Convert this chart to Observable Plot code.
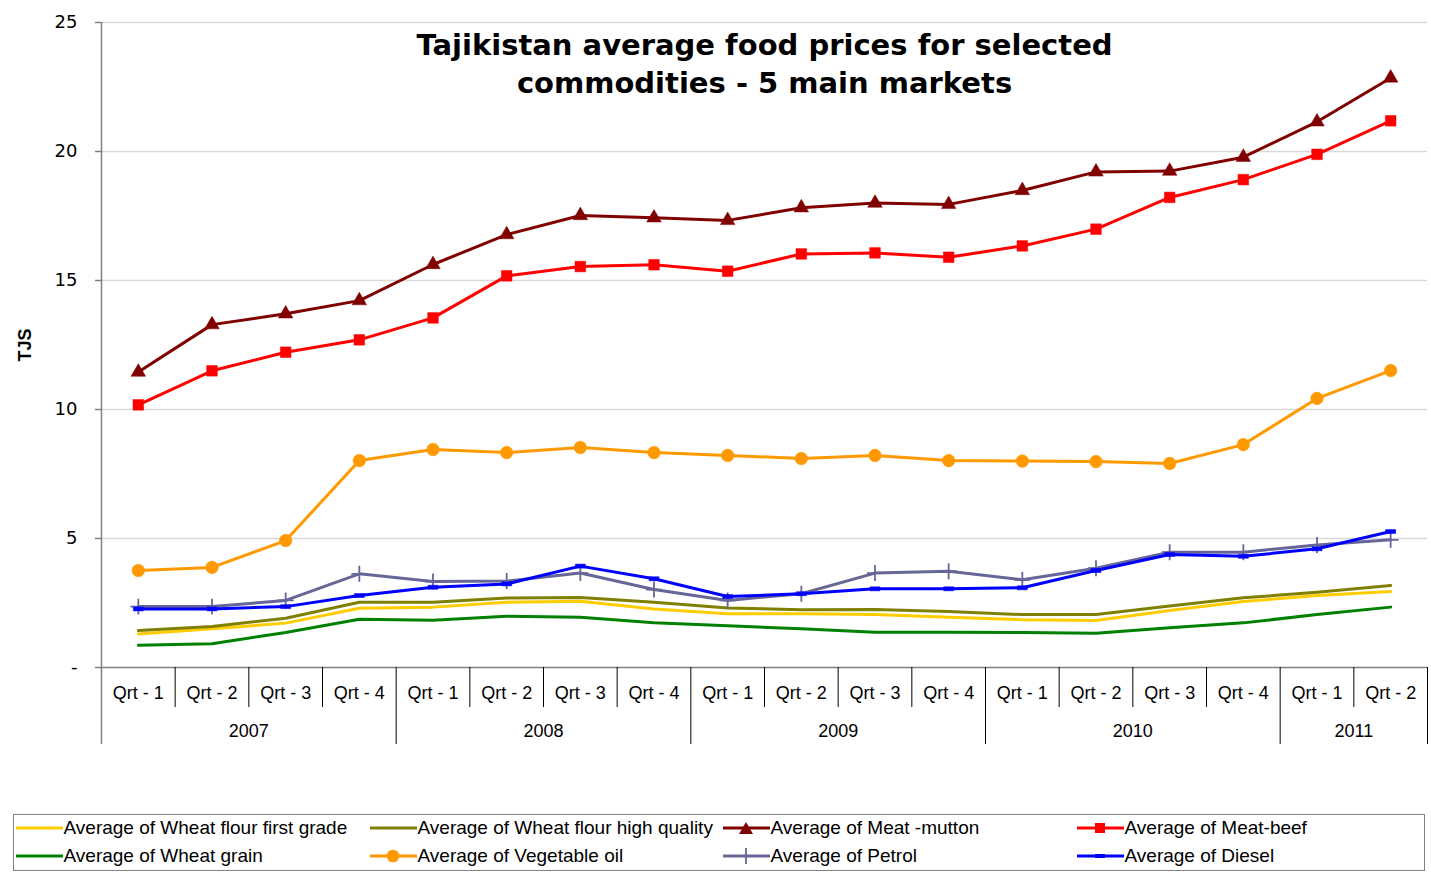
<!DOCTYPE html>
<html>
<head>
<meta charset="utf-8">
<script src="https://cdn.jsdelivr.net/npm/d3@7"></script>
<script src="https://cdn.jsdelivr.net/npm/@observablehq/plot@0.6"></script>
<style>
  html, body { margin: 0; padding: 0; background: #fff; overflow: hidden; }
  #wrap { position: relative; width: 1431px; height: 877px; }
  #chart svg { display: block; }
  #legend { position: absolute; left: 13px; top: 814px; width: 1412px; height: 57px;
            border: 1.5px solid #808080; box-sizing: border-box; }
  .item { position: absolute; height: 24px; display: flex; align-items: center;
          font-family: "Liberation Sans", Arial, sans-serif; font-size: 19px; color: #000; white-space: nowrap; }
  .item svg { display: block; margin-right: 1px; }
</style>
</head>
<body>
<div id="wrap">
  <div id="chart"></div>
  <div id="legend"></div>
</div>
<script>
// ---- data ----
const titleText = "Tajikistan average food prices for selected\ncommodities - 5 main markets";
const yLabel = "TJS";
const periodYears = ["2007","2007","2007","2007","2008","2008","2008","2008","2009","2009","2009","2009","2010","2010","2010","2010","2011","2011"];
const periodQuarters = ["Qrt - 1","Qrt - 2","Qrt - 3","Qrt - 4","Qrt - 1","Qrt - 2","Qrt - 3","Qrt - 4","Qrt - 1","Qrt - 2","Qrt - 3","Qrt - 4","Qrt - 1","Qrt - 2","Qrt - 3","Qrt - 4","Qrt - 1","Qrt - 2"];
const yTicks = [0, 5, 10, 15, 20, 25];

const wheatFlourFirstGrade = [1.30,1.50,1.72,2.30,2.34,2.53,2.57,2.27,2.08,2.08,2.05,1.95,1.85,1.82,2.21,2.56,2.79,2.95];
const wheatFlourHighQuality = [1.43,1.59,1.91,2.53,2.53,2.69,2.71,2.53,2.31,2.24,2.25,2.17,2.05,2.05,2.38,2.70,2.92,3.18];
const meatMutton = [11.45,13.29,13.71,14.22,15.62,16.78,17.52,17.43,17.33,17.82,18.00,17.95,18.49,19.21,19.24,19.78,21.15,22.85];
const meatBeef = [10.18,11.50,12.22,12.70,13.55,15.18,15.54,15.61,15.36,16.03,16.07,15.90,16.34,16.99,18.22,18.91,19.89,21.19];
const wheatGrain = [0.86,0.92,1.36,1.87,1.83,1.99,1.95,1.73,1.62,1.50,1.37,1.37,1.36,1.33,1.54,1.73,2.05,2.34];
const vegetableOil = [3.76,3.88,4.92,8.02,8.45,8.33,8.53,8.33,8.22,8.10,8.22,8.02,8.00,7.98,7.91,8.64,10.43,11.51];
const petrol = [2.36,2.36,2.60,3.63,3.33,3.35,3.66,3.02,2.60,2.86,3.66,3.73,3.40,3.85,4.47,4.47,4.75,4.95];
const diesel = [2.27,2.27,2.36,2.79,3.11,3.24,3.93,3.44,2.75,2.86,3.05,3.05,3.09,3.76,4.38,4.31,4.60,5.27];

const seriesNames = ["Average of Wheat flour first grade","Average of Wheat flour high quality","Average of Meat -mutton","Average of Meat-beef","Average of Wheat grain","Average of Vegetable oil","Average of Petrol","Average of Diesel"];
const seriesValues = [wheatFlourFirstGrade, wheatFlourHighQuality, meatMutton, meatBeef, wheatGrain, vegetableOil, petrol, diesel];
const seriesColors = ["#ffcc00","#808000","#800000","#ff0000","#008000","#ff9900","#666699","#0000ff"];
const seriesMarkers = [null, null, "triangle", "square", null, "circle", "plus", "dash"];

// ---- layout ----
const W = 1431, H = 800, mL = 101, mR = 4, mT = 22, mB = 133;
const frameH = H - mT - mB;
const n = periodQuarters.length;

const dashSymbol = { draw(ctx) { ctx.rect(-5, -2, 10, 4); } };
const markerSpec = {
  triangle: { symbol: "triangle", r: 5.4, fill: true },
  square: { symbol: "square", r: 6.0, fill: true },
  circle: { symbol: "circle", r: 6.3, fill: true },
  plus: { symbol: "plus", r: 5.2, fill: false },
  dash: { symbol: dashSymbol, r: 5, fill: true }
};

// year groups
const yearGroups = [];
periodYears.forEach((y, i) => {
  const last = yearGroups[yearGroups.length - 1];
  if (last && last.year === y) last.end = i + 1;
  else yearGroups.push({ year: y, start: i, end: i + 1 });
});
const yearBounds = yearGroups.map(g => g.end);
const quarterBounds = d3.range(1, n).filter(b => !yearBounds.includes(b));
const periods = periodQuarters.map((q, i) => ({ q, i }));

const marks = [
  Plot.gridY(yTicks.filter(t => t > 0), { stroke: "#d9d9d9", strokeOpacity: 1, strokeWidth: 1.5 }),
  Plot.axisY(yTicks, { tickFormat: d => d === 0 ? "-" : String(d), tickSize: 6, tickPadding: 18,
    fontSize: 18, fontFamily: "DejaVu Sans", stroke: "#808080", strokeWidth: 1.5, label: null }),
  Plot.ruleX([0], { stroke: "#808080", strokeWidth: 1.5, insetBottom: -77 }),
  Plot.ruleY([0], { stroke: "#808080", strokeWidth: 1.5 }),
  Plot.ruleX(quarterBounds, { stroke: "#000", strokeWidth: 1, insetTop: frameH, insetBottom: -40 }),
  Plot.ruleX(yearBounds, { stroke: "#000", strokeWidth: 1, insetTop: frameH, insetBottom: -77 }),
  Plot.text(periods, { x: d => d.i + 0.5, text: d => d.q, frameAnchor: "bottom", lineAnchor: "middle", dy: 26,
    fontSize: 18, fontFamily: "Liberation Sans", fill: "#000" }),
  Plot.text(yearGroups, { x: d => (d.start + d.end) / 2, text: d => d.year, frameAnchor: "bottom", lineAnchor: "middle", dy: 64,
    fontSize: 18, fontFamily: "Liberation Sans", fill: "#000" }),
  Plot.text([yLabel], { text: d => d, frameAnchor: "left", textAnchor: "middle", lineAnchor: "middle", dx: -76, rotate: -90,
    fontSize: 18, fontWeight: "bold", fontFamily: "Liberation Sans", fill: "#000" }),
  Plot.text([titleText], { text: d => d, frameAnchor: "top", dy: 39, lineAnchor: "middle", lineHeight: 1.31,
    fontSize: 29, fontWeight: "bold", fontFamily: "DejaVu Sans", fill: "#000" })
];

seriesValues.forEach((vals, k) => {
  const rows = vals.map((v, i) => ({ x: i + 0.5, y: v }));
  marks.push(Plot.line(rows, { x: "x", y: "y", stroke: seriesColors[k], strokeWidth: 3, strokeLinejoin: "round" }));
  const m = seriesMarkers[k];
  if (m) {
    const s = markerSpec[m];
    marks.push(Plot.dot(rows, { x: "x", y: "y", symbol: s.symbol, r: s.r,
      fill: s.fill ? seriesColors[k] : "none", stroke: seriesColors[k], strokeWidth: s.fill ? 0.5 : 1.8 }));
  }
});

const chart = Plot.plot({
  width: W, height: H, marginLeft: mL, marginRight: mR, marginTop: mT, marginBottom: mB,
  x: { type: "linear", domain: [0, n], axis: null },
  y: { type: "linear", domain: [0, 25], axis: null },
  style: { background: "#fff", color: "#000", fontFamily: "DejaVu Sans", overflow: "visible" },
  marks
});
document.getElementById("chart").appendChild(chart);

// ---- legend ----
const legend = document.getElementById("legend");
const colLeft = [16, 370, 723, 1077];
const rowCenter = [828, 856];
const legendBoxLeft = 13, legendBoxTop = 814;
seriesNames.forEach((name, k) => {
  const row = Math.floor(k / 4), col = k % 4;
  const div = document.createElement("div");
  div.className = "item";
  div.style.left = (colLeft[col] - legendBoxLeft - 1.5) + "px";
  div.style.top = (rowCenter[row] - 12 - legendBoxTop - 1.5) + "px";
  const c = seriesColors[k];
  let marker = "";
  switch (seriesMarkers[k]) {
    case "triangle": marker = `<path d="M23,6 L30,18 L16,18 Z" fill="${c}"/>`; break;
    case "square": marker = `<rect x="18" y="7" width="10" height="10" fill="${c}"/>`; break;
    case "circle": marker = `<circle cx="23" cy="12" r="6.3" fill="${c}"/>`; break;
    case "plus": marker = `<line x1="23" y1="4" x2="23" y2="20" stroke="${c}" stroke-width="1.8"/>`; break;
    case "dash": marker = `<rect x="18" y="10" width="10" height="4" fill="${c}"/>`; break;
  }
  div.innerHTML = `<svg width="47" height="24"><line x1="0" y1="12" x2="47" y2="12" stroke="${c}" stroke-width="3"/>${marker}</svg><span>${name}</span>`;
  legend.appendChild(div);
});
</script>
</body>
</html>
